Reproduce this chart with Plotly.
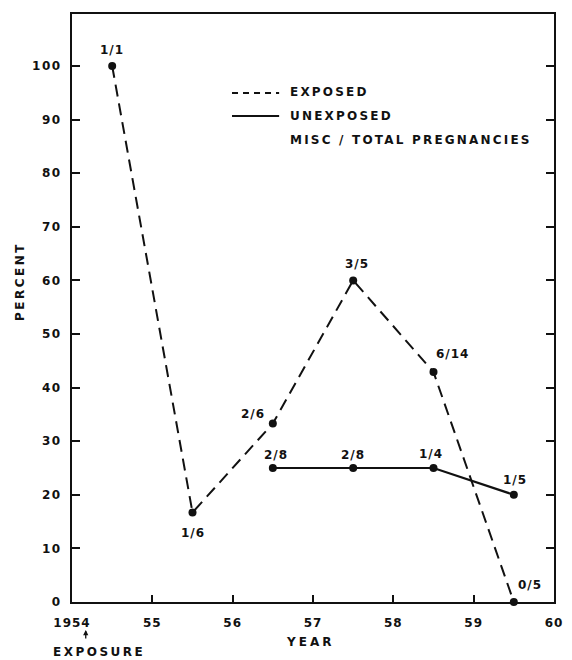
import plotly.graph_objects as go

# ---- data ----
exposed_years = [1954.5, 1955.5, 1956.5, 1957.5, 1958.5, 1959.5]
exposed_pct = [100.0, 16.7, 33.3, 60.0, 42.9, 0.0]
exposed_labels = ["1/1", "1/6", "2/6", "3/5", "6/14", "0/5"]

unexposed_years = [1956.5, 1957.5, 1958.5, 1959.5]
unexposed_pct = [25.0, 25.0, 25.0, 20.0]
unexposed_labels = ["2/8", "2/8", "1/4", "1/5"]

x_tickvals = [1954, 1955, 1956, 1957, 1958, 1959, 1960]
x_ticktext = ["1954", "55", "56", "57", "58", "59", "60"]
y_tickvals = [0, 10, 20, 30, 40, 50, 60, 70, 80, 90, 100]
y_ticktext = ["0", "10", "20", "30", "40", "50", "60", "70", "80", "90", "100"]

# ---- style ----
FONT = "DejaVu Sans"
INK = "#111111"


def spaced(t, sp=1.5):
    return "<span style='letter-spacing:%spx'>%s</span>" % (sp, t)


exposed_shifts = [(0, 16), (0, -21), (-20, 10), (4, 16), (19, 18), (16, 17)]
unexposed_shifts = [(3, 13), (0, 13), (-3, 14), (1, 15)]

fig = go.Figure()
fig.add_trace(go.Scatter(
    x=exposed_years, y=exposed_pct, mode="lines+markers",
    line=dict(color=INK, width=2, dash="12px,7px"),
    marker=dict(color=INK, size=8), cliponaxis=False, showlegend=False))
fig.add_trace(go.Scatter(
    x=unexposed_years, y=unexposed_pct, mode="lines+markers",
    line=dict(color=INK, width=2.2),
    marker=dict(color=INK, size=8), cliponaxis=False, showlegend=False))

lab_font = dict(family=FONT, size=12, color=INK, weight="bold")
annotations = []
for xv, yv, t, (dx, dy) in zip(exposed_years, exposed_pct, exposed_labels, exposed_shifts):
    annotations.append(dict(x=xv, y=yv, text=spaced(t, 1), showarrow=False, xshift=dx, yshift=dy,
                            xanchor="center", yanchor="middle", font=lab_font))
for xv, yv, t, (dx, dy) in zip(unexposed_years, unexposed_pct, unexposed_labels, unexposed_shifts):
    annotations.append(dict(x=xv, y=yv, text=spaced(t, 1), showarrow=False, xshift=dx, yshift=dy,
                            xanchor="center", yanchor="middle", font=lab_font))

# legend (drawn)
H = 588.0  # plot height in px
W = 491.0  # plot width in px


def px_x(px):
    return (px - 72) / W


def px_y(py):
    return 1 - (py - 14) / H


legend_items = [("EXPOSED", 92), ("UNEXPOSED", 116), ("MISC / TOTAL PREGNANCIES", 140)]
for txt, py in legend_items:
    annotations.append(dict(xref="paper", yref="paper", x=px_x(292), y=px_y(py), text=spaced(txt, 2.2),
                            showarrow=False, xanchor="left", yanchor="middle", font=lab_font))
shapes = [
    dict(type="line", xref="paper", yref="paper", x0=px_x(235), x1=px_x(283),
         y0=px_y(93), y1=px_y(93), line=dict(color=INK, width=2, dash="6px,5px")),
    dict(type="line", xref="paper", yref="paper", x0=px_x(235), x1=px_x(283),
         y0=px_y(116), y1=px_y(116), line=dict(color=INK, width=2)),
]

# axis titles & exposure mark
annotations += [
    dict(xref="paper", yref="paper", x=px_x(314), y=px_y(642), text=spaced("YEAR", 3), showarrow=False,
         xanchor="center", yanchor="middle", font=lab_font),
    dict(xref="paper", yref="paper", x=px_x(19), y=px_y(281), text=spaced("PERCENT", 2.5), showarrow=False,
         xanchor="center", yanchor="middle", textangle=-90, font=lab_font),
    dict(xref="paper", yref="paper", x=px_x(86), y=px_y(630), text="", showarrow=True,
         ax=0, ay=10, arrowhead=2, arrowsize=0.8, arrowwidth=1.3, arrowcolor=INK),
    dict(xref="paper", yref="paper", x=px_x(100), y=px_y(652), text=spaced("EXPOSURE", 2.5), showarrow=False,
         xanchor="center", yanchor="middle", font=lab_font),
]

fig.update_layout(
    width=572, height=660,
    margin=dict(l=72, r=9, t=14, b=58),
    paper_bgcolor="white", plot_bgcolor="white",
    font=dict(family=FONT, size=12, color=INK, weight="bold"),
    annotations=annotations, shapes=shapes,
    xaxis=dict(range=[1954, 1960], tickvals=x_tickvals,
               ticktext=[spaced(t, 1) for t in x_ticktext],
               ticks="inside", ticklen=7, tickwidth=1.5, tickcolor=INK,
               showline=True, linecolor=INK, linewidth=2, mirror=True,
               showgrid=False, zeroline=False, ticklabelstandoff=9,
               tickfont=dict(family=FONT, size=12, color=INK, weight="bold")),
    yaxis=dict(range=[0, 109.7], tickvals=y_tickvals,
               ticktext=[spaced(t, 1.5) for t in y_ticktext],
               ticks="inside", ticklen=8, tickwidth=1.5, tickcolor=INK,
               showline=True, linecolor=INK, linewidth=2, mirror="ticks",
               showgrid=False, zeroline=False, ticklabelstandoff=6,
               tickfont=dict(family=FONT, size=12, color=INK, weight="bold")),
)

fig.write_html("out.html", config={"displayModeBar": False},
               post_script="document.body.style.margin='0';document.body.style.overflow='hidden';")
